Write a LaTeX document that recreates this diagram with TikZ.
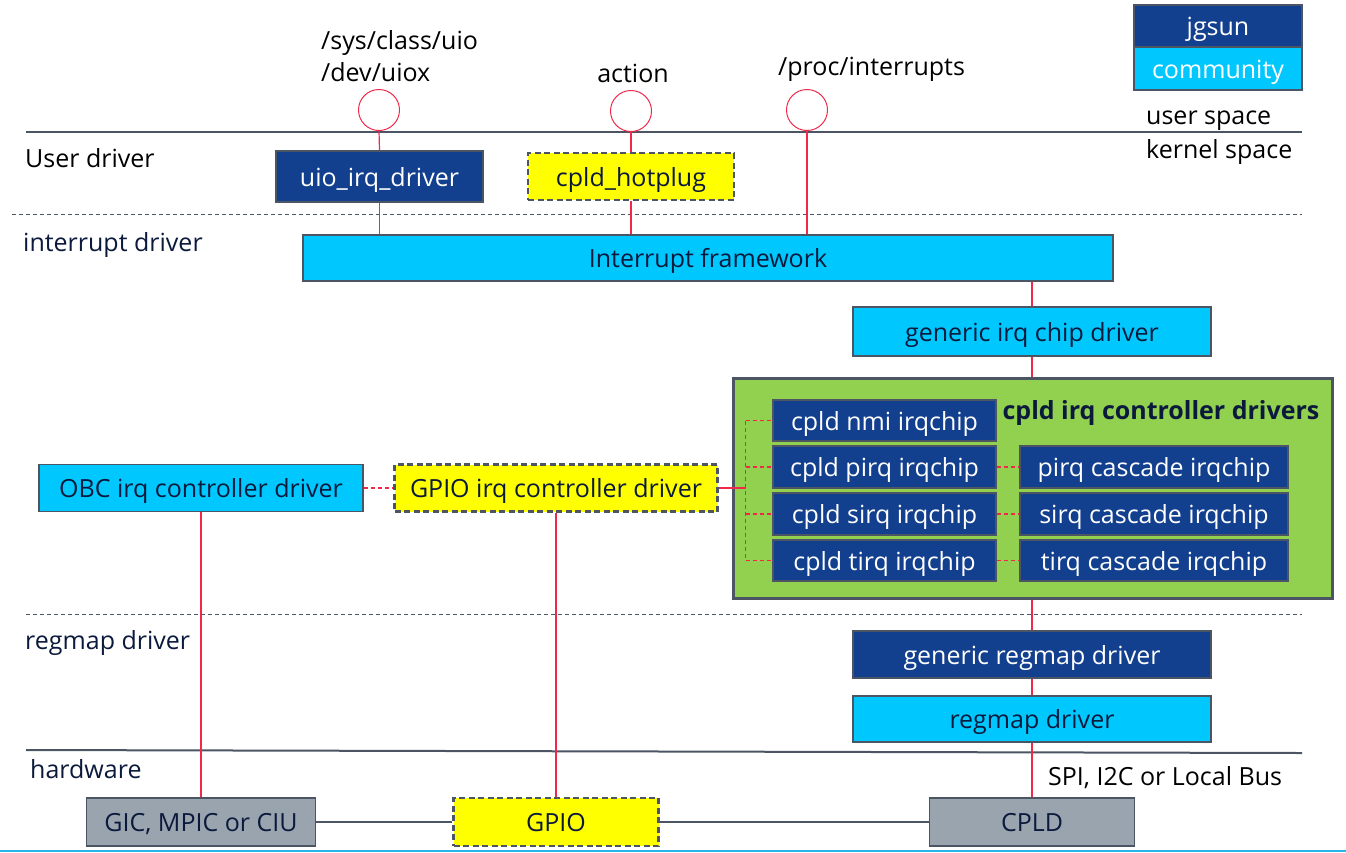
\documentclass[tikz,border=0pt]{standalone}
\usepackage{fontspec}
\setmainfont{Open Sans}
\usetikzlibrary{calc}
\definecolor{dblue}{HTML}{12408E}
\definecolor{cyanb}{HTML}{00C8FF}
\definecolor{yel}{HTML}{FFFF00}
\definecolor{grn}{HTML}{92D050}
\definecolor{hwgray}{HTML}{9AA4AF}
\definecolor{bord}{HTML}{4B5563}
\definecolor{navy}{HTML}{0B1A3C}
\definecolor{redl}{HTML}{F0284A}
\definecolor{botblue}{HTML}{29B6E6}
\begin{document}
\begin{tikzpicture}[x=1pt,y=-1pt,
  every node/.style={font=\fontsize{25}{29}\selectfont, inner sep=0pt, text=navy, text height=22pt, text depth=3pt},
  box/.style={draw=bord, line width=1.8pt, minimum width=#1},
  darkbox/.style={box=#1, fill=dblue, text=white},
  cyanbox/.style={box=#1, fill=cyanb},
  yelbox/.style={box=#1, fill=yel, line width=2.3pt, dash pattern=on 6pt off 3.5pt},
  hwbox/.style={box=#1, fill=hwgray},
  redline/.style={draw=redl, line width=1.2pt},
  reddash/.style={draw=redl, line width=1.2pt, dash pattern=on 4pt off 3pt},
  sepline/.style={draw=bord, line width=2pt},
  sepdash/.style={draw=bord, line width=0.9pt, dash pattern=on 4pt off 3pt},
  lbl/.style={anchor=west, text=black},
  ring/.style={circle, draw=redl, line width=1pt, minimum size=41pt, text height=0pt, text depth=0pt},
]
\useasboundingbox (0,0) rectangle (1346,852);

% legend
\node[darkbox=168pt, minimum height=42pt] (lg1) at (1218,26) {jgsun};
\node[cyanbox=168pt, minimum height=43pt, text=white] (lg2) at (1218,68.5) {community};

% separators
\draw[sepline] (26,132) -- (1302,132);
\draw[sepdash] (12,214) -- (1302,214);
\draw[sepdash] (26,614) -- (1302,614);
\draw[sepline] (26,750) -- (1302,753);
\draw[line width=2pt, draw=botblue] (0,851) -- (1346,851);

% side labels
\node[lbl] (us) at (1146,115) {user space};
\node[lbl] (ks) at (1146,149) {kernel space};
\node[lbl] (ud) at (25,158) {User driver};
\node[lbl, text=navy] (id) at (23,242) {interrupt driver};
\node[lbl, text=navy] (rd) at (25,640) {regmap driver};
\node[lbl, text=navy] (hw) at (30,769) {hardware};
\node[lbl, text=black] (spi) at (1048,776) {SPI, I2C or Local Bus};

% top labels
\node[lbl] (t1) at (321,40) {/sys/class/uio};
\node[lbl] (t2) at (321,72) {/dev/uiox};
\node[text=black] (t3) at (633,73) {action};
\node[lbl] (t4) at (778,66) {/proc/interrupts};

% circles
\node[ring] (c1) at (379,110) {};
\node[ring] (c2) at (631,111) {};
\node[ring] (c3) at (807,110) {};

% boxes
\node[darkbox=207pt, minimum height=51pt] (uio) at (379.5,176.5) {uio\_irq\_driver};
\node[yelbox=206pt, minimum height=47pt] (hot) at (631,176.5) {cpld\_hotplug};
\node[cyanbox=810pt, minimum height=46pt] (ifw) at (708,258) {Interrupt framework};
\node[cyanbox=358pt, minimum height=49pt] (gic) at (1032,331.5) {generic irq chip driver};

\node[draw=bord, line width=3pt, fill=grn, minimum width=599pt, minimum height=220pt] (grp) at (1032.5,488) {};
\node[font=\bfseries\fontsize{25}{29}\selectfont] (title) at (1161,410) {cpld irq controller drivers};

\node[darkbox=223pt, minimum height=41pt] (nmi) at (884.5,420.5) {cpld nmi irqchip};
\node[darkbox=223pt, minimum height=42pt] (pirq) at (884.5,467) {cpld pirq irqchip};
\node[darkbox=223pt, minimum height=42pt] (sirq) at (884.5,514) {cpld sirq irqchip};
\node[darkbox=223pt, minimum height=41pt] (tirq) at (884.5,560.5) {cpld tirq irqchip};
\node[darkbox=268pt, minimum height=42pt] (pc) at (1154,467) {pirq cascade irqchip};
\node[darkbox=268pt, minimum height=42pt] (sc) at (1154,514) {sirq cascade irqchip};
\node[darkbox=268pt, minimum height=41pt] (tc) at (1154,560.5) {tirq cascade irqchip};

\node[cyanbox=324pt, minimum height=47pt] (obc) at (201,488) {OBC irq controller driver};
\node[yelbox=323pt, minimum height=47pt] (gpirq) at (556,488) {GPIO irq controller driver};

\node[darkbox=358pt, minimum height=47pt] (grm) at (1032,654.5) {generic regmap driver};
\node[cyanbox=358pt, minimum height=46pt] (rm) at (1032,719) {regmap driver};

\node[hwbox=229pt, minimum height=48pt] (gicb) at (201,822) {GIC, MPIC or CIU};
\node[yelbox=205pt, minimum height=48pt] (gpio) at (556,822) {GPIO};
\node[hwbox=205pt, minimum height=48pt] (cpld) at (1032,822) {CPLD};

% connectors
\draw[redline] (c1.south) -- (uio.north);
\draw[redline] (uio.south) -- (uio.south |- ifw.north);
\draw[redline] (c2.south) -- (hot.north);
\draw[redline] (hot.south) -- (hot.south |- ifw.north);
\draw[redline] (c3.south) -- (c3.south |- ifw.north);
\draw[redline] (gic.north |- ifw.south) -- (gic.north);
\draw[redline] (gic.south) -- (gic.south |- grp.north);
\draw[redline] (grm.north |- grp.south) -- (grm.north);
\draw[redline] (grm.south) -- (rm.north);
\draw[redline] (rm.south) -- (cpld.north);
\draw[redline] (obc.south) -- (obc.south |- gicb.north);
\draw[redline] (gpirq.south) -- (gpio.north);

\draw[reddash] (obc.east) -- (gpirq.west);
\coordinate (tr) at (745.5,488);
\draw[redline] (gpirq.east) -- (tr);
\draw[reddash] (tr |- nmi.west) -- (tr |- tirq.west);
\draw[reddash] (tr |- nmi.west) -- (nmi.west);
\draw[reddash] (tr |- pirq.west) -- (pirq.west);
\draw[reddash] (tr |- sirq.west) -- (sirq.west);
\draw[reddash] (tr |- tirq.west) -- (tirq.west);
\draw[reddash] (pirq.east) -- (pc.west);
\draw[reddash] (sirq.east) -- (sc.west);
\draw[reddash] (tirq.east) -- (tc.west);

\draw[draw=bord, line width=1.2pt] (gicb.east) -- (gpio.west);
\draw[draw=bord, line width=1.2pt] (gpio.east) -- (cpld.west);
\end{tikzpicture}
\end{document}
